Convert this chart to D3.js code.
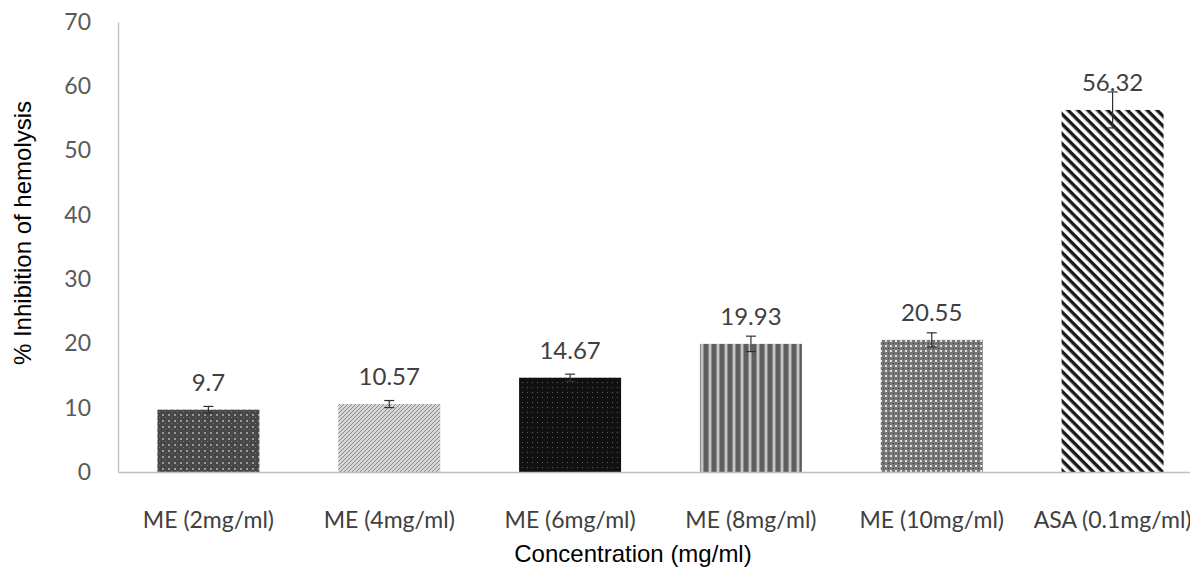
<!DOCTYPE html>
<html>
<head>
<meta charset="utf-8">
<script src="https://cdn.jsdelivr.net/npm/d3@7"></script>
<style>
  body { margin: 0; background: #fff; overflow: hidden; }
  svg { display: block; }
</style>
</head>
<body>
<svg id="chart"></svg>
<script>
// data
var categories = ["ME (2mg/ml)", "ME (4mg/ml)", "ME (6mg/ml)", "ME (8mg/ml)", "ME (10mg/ml)", "ASA (0.1mg/ml)"];
var values = [9.7, 10.57, 14.67, 19.93, 20.55, 56.32];
var errors = [0.5, 0.55, 0.55, 1.2, 1.1, 2.8];
var yTicks = [0, 10, 20, 30, 40, 50, 60, 70];
var patternIds = ["p1", "p2", "p3", "p4", "p5", "p6"];

var svgWidth = 1190, svgHeight = 567;
var margin = { left: 118, top: 22, bottom: 95 };

var svg = d3.select("#chart")
    .attr("width", svgWidth)
    .attr("height", svgHeight);

// fill patterns
var defs = svg.append("defs");

// p1 dark grey with light dot grid
var p1 = defs.append("pattern").attr("id", "p1").attr("patternUnits", "userSpaceOnUse")
    .attr("width", 6).attr("height", 6);
p1.append("rect").attr("width", 6).attr("height", 6).attr("fill", "#474747");
p1.append("rect").attr("x", 0).attr("y", 0).attr("width", 2).attr("height", 2).attr("fill", "#9a9a9a");
p1.append("rect").attr("x", 3).attr("y", 3).attr("width", 1).attr("height", 1).attr("fill", "#7a7a7a");

// p2 light grey fine diagonal
var p2 = defs.append("pattern").attr("id", "p2").attr("patternUnits", "userSpaceOnUse")
    .attr("width", 4).attr("height", 4);
p2.append("rect").attr("width", 4).attr("height", 4).attr("fill", "#d6d6d6");
p2.append("path").attr("d", "M0,4 L4,0 M-1,1 L1,-1 M3,5 L5,3").attr("stroke", "#8a8a8a").attr("stroke-width", 1);

// p3 black with faint dots
var p3 = defs.append("pattern").attr("id", "p3").attr("patternUnits", "userSpaceOnUse")
    .attr("width", 5).attr("height", 5);
p3.append("rect").attr("width", 5).attr("height", 5).attr("fill", "#111");
p3.append("rect").attr("x", 2).attr("y", 2).attr("width", 1).attr("height", 1).attr("fill", "#5a5a5a");

// p4 vertical stripes
var p4 = defs.append("pattern").attr("id", "p4").attr("patternUnits", "userSpaceOnUse")
    .attr("width", 8).attr("height", 8);
p4.append("rect").attr("width", 8).attr("height", 8).attr("fill", "#c4c4c4");
p4.append("rect").attr("x", 0).attr("width", 4).attr("height", 8).attr("fill", "#5e5e5e");
p4.append("rect").attr("x", 4).attr("width", 1).attr("height", 8).attr("fill", "#8e8e8e");
p4.append("rect").attr("x", 7).attr("width", 1).attr("height", 8).attr("fill", "#8e8e8e");

// p5 grey with white dot grid
var p5 = defs.append("pattern").attr("id", "p5").attr("patternUnits", "userSpaceOnUse")
    .attr("width", 5).attr("height", 5);
p5.append("rect").attr("width", 5).attr("height", 5).attr("fill", "#777");
p5.append("rect").attr("x", 0).attr("y", 0).attr("width", 2).attr("height", 2).attr("fill", "#e0e0e0");
p5.append("rect").attr("x", 3).attr("y", 3).attr("width", 1).attr("height", 1).attr("fill", "#3a3a3a");

// p6 black/white diagonal stripes (down to the right)
var p6 = defs.append("pattern").attr("id", "p6").attr("patternUnits", "userSpaceOnUse")
    .attr("width", 7).attr("height", 7).attr("patternTransform", "rotate(45)");
p6.append("rect").attr("width", 7).attr("height", 7).attr("fill", "#fff");
p6.append("rect").attr("width", 7).attr("height", 3.4).attr("fill", "#1a1a1a");

// scales
var xScale = d3.scaleBand()
    .domain(categories)
    .range([margin.left, 1203])
    .paddingInner(0.436)
    .paddingOuter(0.218);

var yScale = d3.scaleLinear()
    .domain([0, 70])
    .range([svgHeight - margin.bottom, margin.top]);

var labelFont = "Lato, 'Open Sans', sans-serif";

// y axis
var y_axis = d3.axisLeft(yScale).tickValues(yTicks).tickSize(0).tickPadding(27);
var gy = svg.append("g")
    .attr("transform", "translate(" + margin.left + ",0)")
    .call(y_axis);
gy.select(".domain").attr("stroke", "#bfbfbf").attr("stroke-width", 1.3);
gy.selectAll("text")
    .attr("fill", "#595959")
    .style("font-family", labelFont)
    .style("font-size", "23px");

// bars
svg.selectAll("rect.bar")
    .data(values)
    .enter()
    .append("rect")
    .attr("class", "bar")
    .attr("x", function (d, i) { return xScale(categories[i]); })
    .attr("y", function (d) { return yScale(d); })
    .attr("width", xScale.bandwidth())
    .attr("height", function (d) { return yScale(0) - yScale(d); })
    .attr("fill", function (d, i) { return "url(#" + patternIds[i] + ")"; });

// x axis
var x_axis = d3.axisBottom(xScale).tickSize(0).tickPadding(40);
var gx = svg.append("g")
    .attr("transform", "translate(0," + yScale(0) + ")")
    .call(x_axis);
gx.select(".domain").attr("stroke", "#bfbfbf").attr("stroke-width", 1.3);
gx.selectAll("text")
    .attr("fill", "#404040")
    .style("font-family", labelFont)
    .style("font-size", "23px");

// error bars
var errG = svg.append("g").attr("stroke", "#303030").attr("stroke-width", 1.2);
values.forEach(function (d, i) {
    var cx = xScale(categories[i]) + xScale.bandwidth() / 2;
    var y1 = yScale(d + errors[i]), y2 = yScale(d - errors[i]);
    errG.append("line").attr("x1", cx).attr("x2", cx).attr("y1", y1).attr("y2", y2);
    errG.append("line").attr("x1", cx - 5).attr("x2", cx + 5).attr("y1", y1).attr("y2", y1);
    errG.append("line").attr("x1", cx - 5).attr("x2", cx + 5).attr("y1", y2).attr("y2", y2);
});

// data labels
svg.selectAll("text.val")
    .data(values)
    .enter()
    .append("text")
    .attr("class", "val")
    .attr("x", function (d, i) { return xScale(categories[i]) + xScale.bandwidth() / 2; })
    .attr("y", function (d) { return yScale(d) - 19; })
    .attr("text-anchor", "middle")
    .attr("fill", "#404040")
    .style("font-family", labelFont)
    .style("font-size", "24px")
    .text(function (d) { return d; });

// axis titles
svg.append("text")
    .attr("transform", "translate(31,233) rotate(-90)")
    .attr("text-anchor", "middle")
    .attr("fill", "#000")
    .style("font-family", "'Liberation Sans', Arial, sans-serif")
    .style("font-size", "24px")
    .text("% Inhibition of hemolysis");

svg.append("text")
    .attr("x", 633)
    .attr("y", 562)
    .attr("text-anchor", "middle")
    .attr("fill", "#000")
    .style("font-family", "'Liberation Sans', Arial, sans-serif")
    .style("font-size", "24px")
    .text("Concentration (mg/ml)");
</script>
</body>
</html>
